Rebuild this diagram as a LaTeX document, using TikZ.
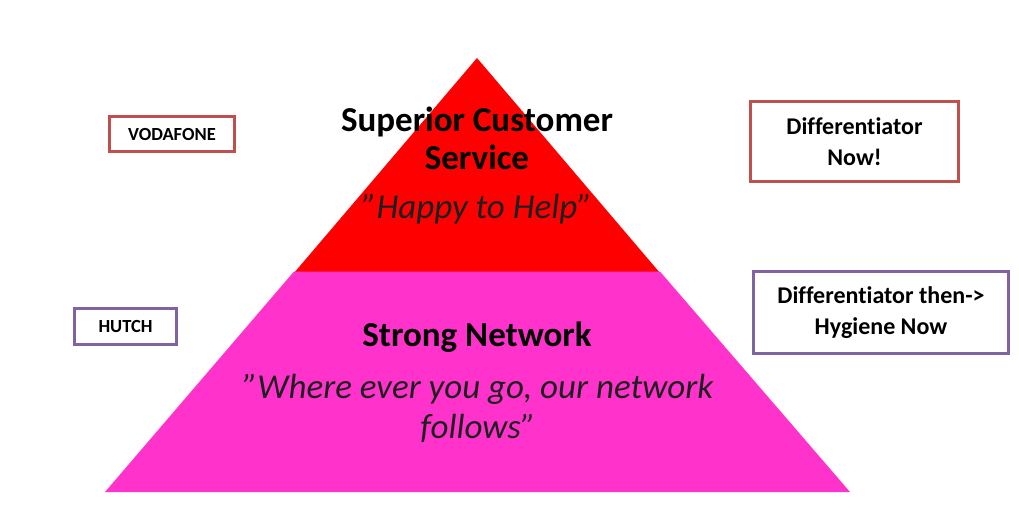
\documentclass[tikz,border=0pt]{standalone}
\usepackage{fontspec}
\setmainfont[Ligatures={NoCommon}]{Carlito}
\definecolor{topred}{HTML}{FF0000}
\definecolor{basepink}{HTML}{FF33CC}
\definecolor{boxred}{HTML}{C0504D}
\definecolor{boxpurple}{HTML}{8064A2}
\newcommand{\dq}{\symbol{34}}

\begin{document}
\begin{tikzpicture}[x=1pt, y=-1pt,
      layer/.style={font=\fontsize{35}{38}\selectfont\bfseries, align=center, inner sep=0pt},
      slogan/.style={font=\fontsize{35}{40}\selectfont\itshape, align=center, text=black!88, inner sep=0pt},
      tag/.style={draw, line width=3pt, font=\fontsize{18.5}{20}\selectfont\bfseries, inner sep=0pt},
      note/.style={draw, line width=3pt, font=\fontsize{24}{31}\selectfont\bfseries, align=center, inner sep=0pt}
    ]
    \useasboundingbox[fill=white] (0,0) rectangle (1019,525);
    % pyramid
    \coordinate (apex) at (477,58);
    \coordinate (midL) at (294,273);
    \coordinate (midR) at (660,273);
    \coordinate (baseL) at (105,492);
    \coordinate (baseR) at (850,492);
    \fill[topred] (apex) -- (midL) -- (midR) -- cycle;
    \fill[basepink] ([yshift=1.5pt]midL) -- ([yshift=1.5pt]midR) -- (baseR) -- (baseL) -- cycle;

    \node[layer] (service) at (477,138) {Superior Customer\\Service};
    \node[slogan] (help) at (477,209) {\dq Happy to Help\dq};
    \node[layer] (network) at (477,337) {Strong Network};
    \node[slogan] (follows) at (478,408) {\dq Where ever you go, our network\\follows\dq};

    % operators and labels
    \node[tag, draw=boxred, minimum width=125pt, minimum height=35pt] (vodafone) at (172,134) {VODAFONE};
    \node[tag, draw=boxpurple, minimum width=102pt, minimum height=36pt] (hutch) at (125.5,326.5) {HUTCH};
    \node[note, draw=boxred, minimum width=208pt, minimum height=80pt] (now) at (854.5,141.5) {Differentiator\\Now!};
    \node[note, draw=boxpurple, minimum width=255pt, minimum height=82pt] (hygiene) at (881,312.5) {Differentiator then->\\Hygiene Now};
  \end{tikzpicture}
\end{document}
